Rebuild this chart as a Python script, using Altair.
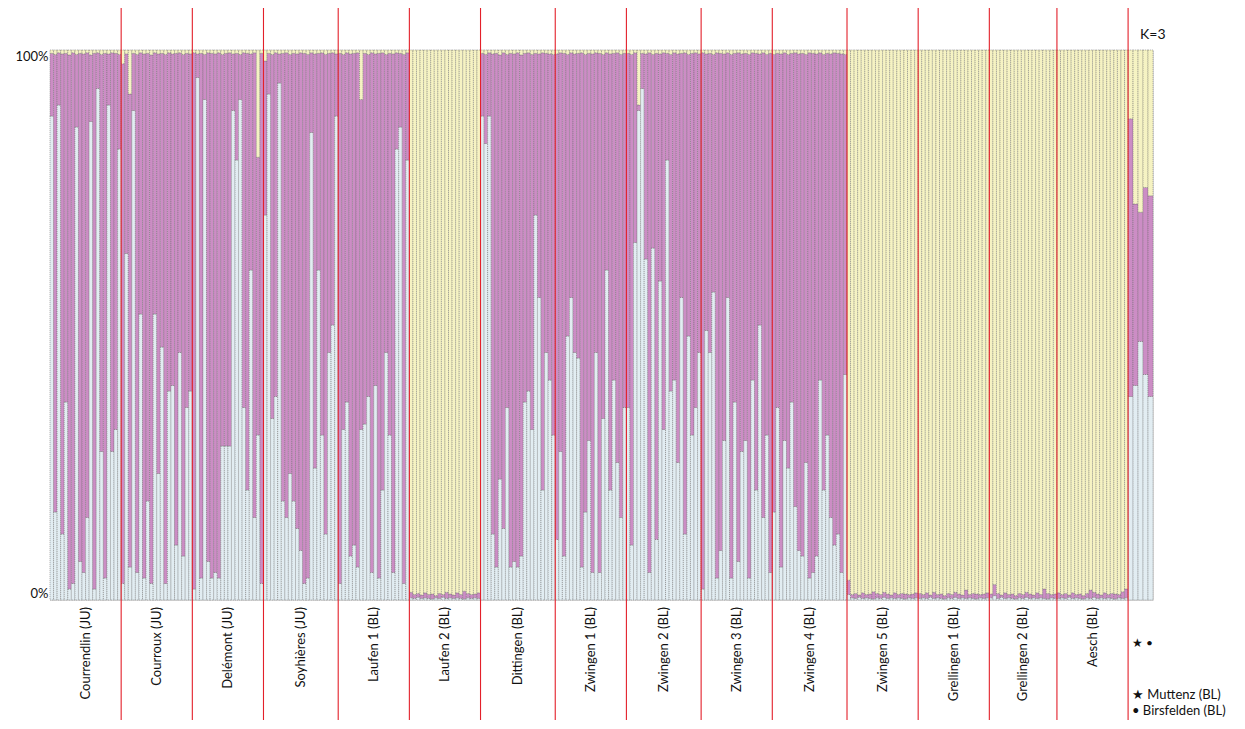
import altair as alt
import pandas as pd

POPS = ["Courrendlin (JU)", "Courroux (JU)", "Delémont (JU)", "Soyhières (JU)",
        "Laufen 1 (BL)", "Laufen 2 (BL)", "Dittingen (BL)", "Zwingen 1 (BL)",
        "Zwingen 2 (BL)", "Zwingen 3 (BL)", "Zwingen 4 (BL)", "Zwingen 5 (BL)",
        "Grellingen 1 (BL)", "Grellingen 2 (BL)", "Aesch (BL)"]

# membership (percent) of the light-blue cluster, per individual
BLUE = [
    [88, 16, 90, 12, 36, 2, 3, 86, 7, 5, 15, 87, 2, 93, 27, 4, 90, 27, 31, 82],
    [3, 63, 6, 89, 5, 52, 4, 18, 3, 52, 23, 46, 3, 38, 39, 10, 45, 8, 35, 38],
    [2, 95, 4, 91, 7, 4, 5, 4, 28, 28, 28, 89, 80, 91, 35, 20, 60, 15, 30, 3],
    [70, 92, 33, 37, 94, 18, 15, 23, 18, 13, 9, 3, 4, 85, 24, 60, 30, 12, 45, 50, 88],
    [3, 31, 36, 8, 10, 6, 31, 32, 37, 5, 39, 4, 20, 45, 30, 5, 82, 86, 3, 80],
    [0.4, 0.3, 0.5, 0.3, 0.4, 0.3, 0.2, 0.4, 0.3, 0.5, 0.3, 0.4, 0.3, 0.4, 0.3, 0.2, 0.4, 0.3, 0.4, 0.3],
    [88, 83, 88, 12, 6, 22, 13, 35, 6, 7, 6, 8, 36, 38, 31, 70, 55, 20, 45, 40, 30],
    [11, 27, 8, 48, 55, 45, 44, 6, 16, 29, 5, 45, 5, 33, 60, 20, 40, 25, 15, 35],
    [35, 10, 65, 89, 93, 62, 5, 64, 11, 58, 31, 80, 38, 40, 25, 55, 12, 48, 30, 35, 45],
    [2, 49, 45, 56, 4, 9, 29, 55, 4, 36, 7, 27, 29, 4, 40, 20, 50, 15, 30, 5],
    [16, 35, 6, 29, 24, 36, 17, 9, 8, 25, 4, 5, 8, 40, 20, 30, 15, 10, 12, 5, 41],
    [1.0, 0.4, 0.3, 0.5, 0.3, 0.4, 0.3, 0.2, 0.4, 0.3, 0.5, 0.3, 0.4, 0.3, 0.4, 0.3, 0.2, 0.4, 0.3, 0.4],
    [0.3, 0.4, 0.3, 0.5, 0.3, 0.4, 0.3, 0.2, 0.4, 0.3, 0.5, 0.3, 0.4, 0.3, 0.4, 0.3, 0.2, 0.4, 0.3, 0.4],
    [0.4, 0.8, 0.3, 0.5, 0.3, 0.4, 0.3, 0.2, 0.4, 0.3, 0.5, 0.3, 0.4, 0.3, 0.4, 0.3, 0.2, 0.4, 0.3],
    [0.3, 0.4, 0.3, 0.5, 0.3, 0.4, 0.3, 0.2, 0.4, 0.3, 0.5, 0.3, 0.4, 0.3, 0.4, 0.3, 0.2, 0.4, 0.3, 0.4],
]

# membership (percent) of the yellow cluster, per individual
YELLOW = [
    [0.6, 0.8, 0.5, 0.7, 0.6, 0.9, 0.5, 0.8, 0.6, 0.7, 0.5, 0.9, 0.6, 0.5, 0.8, 0.6, 0.7, 0.5, 0.6, 0.8],
    [2.5, 0.7, 8.0, 0.6, 0.8, 0.5, 0.7, 0.6, 0.9, 0.5, 0.7, 0.6, 0.8, 0.5, 0.7, 0.6, 0.5, 0.8, 0.6, 0.7],
    [0.5, 0.7, 0.6, 0.8, 0.5, 0.6, 0.7, 0.5, 0.8, 0.6, 0.5, 0.7, 0.6, 0.8, 0.5, 0.6, 0.7, 0.5, 19.5, 0.6],
    [2.0, 0.6, 0.8, 0.5, 0.7, 0.6, 0.5, 0.8, 0.6, 0.7, 0.5, 0.6, 0.8, 0.5, 0.7, 0.6, 0.5, 0.8, 0.6, 0.5, 0.7],
    [0.6, 0.8, 0.5, 0.7, 0.6, 0.5, 9.0, 0.6, 0.8, 0.5, 0.7, 0.6, 0.5, 0.8, 0.6, 0.7, 0.5, 0.6, 0.8, 0.5],
    [98.6, 99.0, 98.8, 99.1, 98.7, 99.0, 98.9, 99.2, 98.8, 99.0, 98.6, 98.9, 99.1, 98.7, 99.0, 98.4, 98.8, 99.0, 98.9, 98.7],
    [0.6, 0.8, 0.5, 0.7, 0.6, 0.9, 0.5, 0.8, 0.6, 0.7, 0.5, 0.9, 0.6, 0.5, 0.8, 0.6, 0.7, 0.5, 0.6, 0.7, 0.8],
    [0.7, 0.5, 0.6, 0.8, 0.5, 0.7, 0.6, 0.5, 0.8, 0.6, 0.7, 0.5, 0.6, 0.8, 0.5, 0.7, 0.6, 0.5, 0.8, 0.6],
    [0.6, 0.8, 0.5, 10.0, 0.6, 0.7, 0.5, 0.8, 0.6, 0.7, 0.5, 0.6, 0.8, 0.5, 0.7, 0.6, 0.5, 0.8, 0.6, 0.5, 0.7],
    [0.5, 0.7, 0.6, 0.8, 0.5, 0.6, 0.7, 0.5, 0.8, 0.6, 0.5, 0.7, 0.6, 0.8, 0.5, 0.6, 0.7, 0.5, 0.8, 0.6],
    [0.8, 0.6, 0.7, 0.5, 0.8, 0.6, 0.5, 0.7, 0.6, 0.8, 0.5, 0.6, 0.7, 0.5, 0.8, 0.6, 0.7, 0.5, 0.6, 0.7, 0.8],
    [96.4, 99.0, 98.8, 99.1, 98.7, 99.0, 98.9, 98.5, 98.8, 99.0, 98.6, 98.9, 99.1, 98.7, 99.0, 98.8, 98.9, 99.0, 98.9, 98.7],
    [98.8, 99.0, 98.7, 99.1, 98.6, 99.0, 98.9, 99.2, 98.8, 99.0, 98.6, 98.9, 99.1, 98.2, 99.0, 98.8, 98.9, 99.0, 98.9, 98.7],
    [98.9, 97.2, 98.8, 99.1, 98.7, 99.0, 98.9, 99.2, 98.8, 99.0, 98.6, 98.9, 99.1, 98.7, 99.0, 98.0, 98.8, 99.0, 98.9],
    [98.7, 99.0, 98.8, 99.1, 98.7, 99.0, 98.9, 99.2, 98.8, 98.2, 98.6, 98.9, 99.1, 98.7, 99.0, 98.8, 98.9, 99.0, 98.5, 98.0],
]

# the extra individuals (Muttenz / Birsfelden)
EXTRA_BLUE = [37, 39, 47, 41, 37]
EXTRA_YELLOW = [12.5, 28, 29.5, 25, 26.5]

COLORS = {"blue": "#e2edf2", "purple": "#cc8dc5", "yellow": "#f6f3c3"}

MAIN_W = 1.0
EXTRA_W = 1.4

rows = []
x = 0.0
def add_bar(x0, w, b, yl, group):
    p_top = 100 - yl
    rows.append(dict(x0=x0, x1=x0 + w, lo=0, hi=b, k="blue", g=group))
    rows.append(dict(x0=x0, x1=x0 + w, lo=b, hi=p_top, k="purple", g=group))
    rows.append(dict(x0=x0, x1=x0 + w, lo=p_top, hi=100, k="yellow", g=group))

bounds = []
centers = []
for pi, name in enumerate(POPS):
    start = x
    for b, yl in zip(BLUE[pi], YELLOW[pi]):
        add_bar(x, MAIN_W, b, yl, name)
        x += MAIN_W
    centers.append(dict(cx=(start + x) / 2, label=name))
    bounds.append(dict(bx=x))
for b, yl in zip(EXTRA_BLUE, EXTRA_YELLOW):
    add_bar(x, EXTRA_W, b, yl, "extra")
    x += EXTRA_W
XMAX = x

df = pd.DataFrame(rows)
W, H = 1103, 550
FONT = "Lato"

xs = alt.Scale(domain=[0, XMAX], nice=False, zero=False)

bars = alt.Chart(df).mark_rect(stroke="#6a6a6a", strokeWidth=0.5, strokeDash=[1.2, 0.8]).encode(
    x=alt.X("x0:Q", scale=xs, axis=None),
    x2="x1:Q",
    y=alt.Y("lo:Q", scale=alt.Scale(domain=[0, 100], nice=False),
            axis=alt.Axis(values=[0, 100], labelExpr="datum.value + '%'", labelFlush=True,
                          domain=False, ticks=False, grid=False, title=None,
                          labelFontSize=13, labelFont=FONT, labelColor="#111", labelPadding=2)),
    y2="hi:Q",
    color=alt.Color("k:N", scale=alt.Scale(domain=list(COLORS), range=list(COLORS.values())), legend=None),
)

rules = alt.Chart(pd.DataFrame(bounds)).mark_rule(color="#e3202a", strokeWidth=1.1).encode(
    x=alt.X("bx:Q", scale=xs),
    y=alt.value(-42),
    y2=alt.value(H + 129),
)

labels = alt.Chart(pd.DataFrame(centers)).mark_text(
    angle=270, align="right", baseline="middle", fontSize=13, font=FONT, color="#111"
).encode(
    x=alt.X("cx:Q", scale=xs),
    y=alt.value(H + 7),
    text="label:N",
)

notes = pd.DataFrame([
    dict(t="K=3", px=1090, py=-15, s=14),
    dict(t="★ •", px=1082, py=593, s=12),
    dict(t="★ Muttenz (BL)", px=1082, py=645, s=13),
    dict(t="• Birsfelden (BL)", px=1082, py=661, s=13),
])
note_layer = alt.Chart(notes).mark_text(align="left", baseline="middle", font=FONT, color="#111").encode(
    x=alt.X("px:Q", scale=None),
    y=alt.Y("py:Q", scale=None),
    text="t:N",
    size=alt.Size("s:Q", scale=None, legend=None),
)

chart = alt.layer(bars, rules, labels, note_layer).properties(
    width=W, height=H,
    autosize=alt.AutoSizeParams(type="none"),
    padding={"left": 42, "top": 42, "right": 84, "bottom": 120},
).configure_view(stroke=None).configure(background="white")

chart.save("out.html", embed_options={"renderer": "svg", "actions": False})
